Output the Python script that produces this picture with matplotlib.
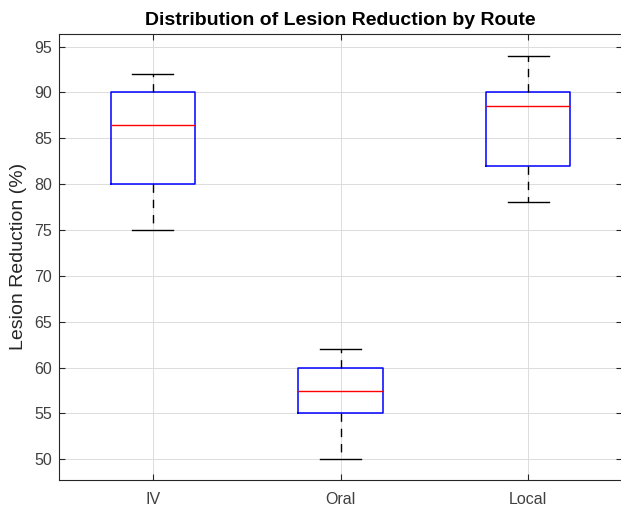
import matplotlib
matplotlib.use('Agg')
import matplotlib.pyplot as plt

# route groups and their box statistics
routes = ['IV', 'Oral', 'Local']
whisker_low = [75, 50, 78]
q1 = [80, 55, 82]
medians = [86.5, 57.5, 88.5]
q3 = [90, 60, 90]
whisker_high = [92, 62, 94]

plt.rcParams['font.family'] = ['Liberation Sans', 'DejaVu Sans']

stats = []
for i in range(len(routes)):
    stats.append({'label': routes[i], 'whislo': whisker_low[i], 'q1': q1[i],
                  'med': medians[i], 'q3': q3[i], 'whishi': whisker_high[i],
                  'fliers': []})

fig = plt.figure(figsize=(6.21, 5.08), dpi=100)
ax = fig.add_axes([59/621, 28/508, 563/621, 446.3/508])

ax.bxp(stats, positions=[1, 2, 3], widths=0.45, capwidths=0.22,
       showfliers=False,
       boxprops=dict(color='#0000ff', linewidth=1.1),
       medianprops=dict(color='#ff0000', linewidth=1.0),
       whiskerprops=dict(color='black', linewidth=1.0, linestyle=(0, (6, 5))),
       capprops=dict(color='black', linewidth=1.0))

ax.set_xlim(0.5, 3.5)
ax.set_ylim(47.75, 96.4)
ax.set_yticks(range(50, 96, 5))
ax.set_xticks([1, 2, 3])
ax.set_xticklabels(routes)

ax.grid(True, color='#dcdcdc', linewidth=0.7)
ax.set_axisbelow(True)
ax.tick_params(direction='in', length=4, width=0.8, colors='#262626',
               labelsize=11.5, top=True, right=True, labelcolor='#404040',
               pad=5)
ax.tick_params(axis='x', pad=9)
for s in ax.spines.values():
    s.set_color('#262626')
    s.set_linewidth(0.8)

ax.set_ylabel('Lesion Reduction (%)', fontsize=14, color='#262626', labelpad=5)
ax.set_title('Distribution of Lesion Reduction by Route', fontsize=14,
             fontweight='bold', color='black', pad=6)

fig.savefig('out.png', dpi=100)
